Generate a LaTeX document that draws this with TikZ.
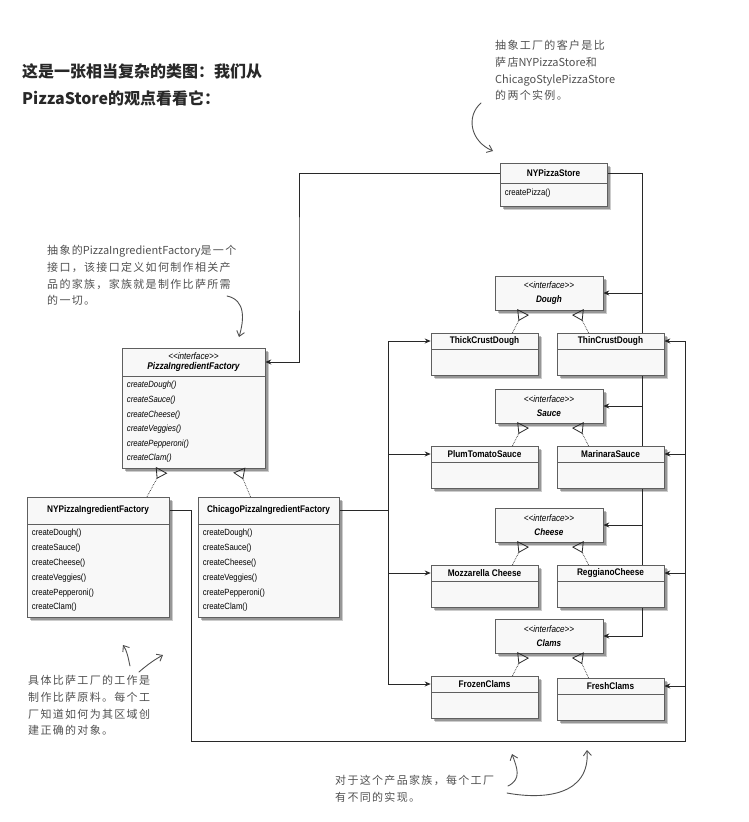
\documentclass[tikz,border=0pt]{standalone}
\usepackage{fontspec}
\setmainfont{Liberation Sans}
\newfontfamily\umlfont[FakeStretch=0.86]{Liberation Sans}
\newfontfamily\cjkfont{Noto Sans CJK SC}
\newfontfamily\handfont[LetterSpace=12]{Noto Sans CJK SC}
\newcommand{\lat}[1]{{\cjkfont #1}}
\newcommand{\stereo}{<\kern0pt<interface>\kern0pt>}
\usetikzlibrary{arrows.meta, positioning, shadows, backgrounds}
\definecolor{inkgray}{RGB}{40,40,40}
\definecolor{notegray}{RGB}{80,80,80}
\definecolor{boxfill}{RGB}{248,248,248}
\definecolor{boxline}{RGB}{95,95,95}

\begin{document}
\begin{tikzpicture}[x=1pt, y=-1pt,
  cls/.style={draw=boxline, fill=boxfill, line width=0.6pt, inner sep=0pt,
    drop shadow={shadow xshift=4pt, shadow yshift=-4pt, opacity=0.2, fill=black},
    drop shadow={shadow xshift=2.5pt, shadow yshift=-2.5pt, opacity=0.35, fill=black!80}},
  hdr/.style={draw=boxline, line width=0.6pt, inner sep=0pt, anchor=north,
    font=\umlfont\fontsize{9.6}{11}\selectfont\bfseries},
  iface/.style={cls, minimum width=108pt, minimum height=34pt, align=center,
    font=\umlfont\fontsize{9.5}{13.5}\selectfont},
  product/.style={cls, minimum width=107pt, minimum height=42pt},
  factory/.style={cls, minimum width=142pt, minimum height=120pt},
  meth/.style={inner sep=0pt, anchor=north west, align=left,
    font=\umlfont\fontsize{9}{14.8}\selectfont},
  line/.style={draw=inkgray, line width=0.8pt},
  assoc/.style={line, -{Stealth[length=6pt, width=5pt]}},
  real/.style={draw=inkgray, line width=0.7pt, densely dotted, shorten >=2pt,
    -{Triangle[open, reversed, length=10pt, width=13pt, line width=0.8pt]}},
  note/.style={inner sep=0pt, anchor=north west, align=left, text=notegray,
    font=\handfont\fontsize{11}{16.8}\selectfont},
  hand/.style={draw=notegray, line width=0.9pt, line cap=round,
    -{Straight Barb[length=5pt, width=8pt]}}
]
\useasboundingbox (0,0) rectangle (748,822);

% title
\node[anchor=north west, inner sep=0pt, align=left, text=inkgray,
  font=\cjkfont\bfseries\fontsize{16}{27}\selectfont] (title) at (22,63)
  {这是一张相当复杂的类图：我们从\\PizzaStore的观点看看它：};

% client
\node[cls, minimum width=107pt, minimum height=43pt] (store) at (553.5,184.5) {};
\node[hdr, minimum width=107pt, minimum height=20pt] (store-h) at (store.north) {NYPizzaStore};
\node[meth] at ([xshift=5pt, yshift=-26pt]store.north west) {createPizza()};

% abstract factory
\node[factory, minimum width=143pt] (pif) at (193.5,408) {};
\node[hdr, minimum width=143pt, minimum height=28pt, align=center,
  font=\umlfont\fontsize{9.5}{10.5}\selectfont\itshape] (pif-h) at (pif.north)
  {\stereo\\\textbf{\fontsize{9.8}{10.5}\selectfont PizzaIngredientFactory}};
\node[meth, font=\umlfont\fontsize{9}{14.6}\selectfont\itshape]
  at ([xshift=5pt, yshift=-33.5pt]pif.north west)
  {createDough()\\createSauce()\\createCheese()\\createVeggies()\\createPepperoni()\\createClam()};

% concrete factories
\node[factory] (nyf) at (98,557) {};
\node[hdr, minimum width=142pt, minimum height=27pt] (nyf-h) at (nyf.north) {NYPizzaIngredientFactory};
\node[meth] at ([xshift=5pt, yshift=-32.5pt]nyf.north west)
  {createDough()\\createSauce()\\createCheese()\\createVeggies()\\createPepperoni()\\createClam()};

\node[factory, minimum width=141pt] (chi) at (268.5,557) {};
\node[hdr, minimum width=141pt, minimum height=27pt] (chi-h) at (chi.north) {ChicagoPizzaIngredientFactory};
\node[meth] at ([xshift=5pt, yshift=-32.5pt]chi.north west)
  {createDough()\\createSauce()\\createCheese()\\createVeggies()\\createPepperoni()\\createClam()};

\draw[real] ([xshift=49pt]nyf.north) -- ([xshift=-31pt]pif.south);
\draw[real] ([xshift=-18pt]chi.north) -- ([xshift=45pt]pif.south);

% product interfaces
\foreach \n/\y/\lbl in {dough/293/Dough, sauce/406/Sauce, cheese/525/Cheese, clams/636/Clams}
  \node[iface] (\n) at (549,\y) {\textit{\stereo}\\\textbf{\textit{\lbl}}};

% concrete products
\foreach \n/\x/\y/\lbl in {thick/484.5/354/ThickCrustDough, thin/610.5/354/ThinCrustDough,
    plum/484.5/467/PlumTomatoSauce, mari/610.5/467/MarinaraSauce,
    mozz/484.5/586/Mozzarella Cheese, regg/610.5/586/ReggianoCheese,
    frozen/484.5/697/FrozenClams, fresh/610.5/699/FreshClams}{
  \node[product] (\n) at (\x,\y) {};
  \node[hdr, minimum width=107pt, minimum height=16pt] (\n-h) at (\n.north) {\lbl};
}

\foreach \l/\r/\i in {thick/thin/dough, plum/mari/sauce, mozz/regg/cheese, frozen/fresh/clams}{
  \draw[real] ([xshift=28pt]\l.north) -- ([xshift=-25pt]\i.south);
  \draw[real] ([xshift=-22pt]\r.north) -- ([xshift=28pt]\i.south);
}

% connectors
\begin{scope}[on background layer]
  \coordinate (sL) at (299,260);
  \coordinate (sbus) at (642,0);
  \coordinate (cbus) at (388,0);
  \coordinate (nyL) at (191,741);
  \coordinate (nyR) at (685,741);
  \draw[assoc] (store-h.west) -| (sL) |- (pif-h.east);
  \draw[assoc] (store-h.east) -| (sbus |- clams.east) -- (clams.east);
  \foreach \i in {dough,sauce,cheese}
    \draw[assoc] (sbus |- \i.east) -- (\i.east);
  \draw[line] (cbus |- thick-h.west) -- (cbus |- frozen-h.west);
  \draw[line] (chi-h.east) -- (cbus |- chi-h.east);
  \foreach \b in {thick,plum,mozz,frozen}
    \draw[assoc] (cbus |- \b-h.west) -- (\b-h.west);
  \draw[assoc] (nyf-h.east) -| (nyL) -- (nyR) |- (thin-h.east);
  \foreach \b in {mari,regg,fresh}
    \draw[assoc] (nyR |- \b-h.east) -- (\b-h.east);
\end{scope}

% notes
\node[note] (note-client) at (495,40)
  {抽象工厂的客户是比\\萨店\lat{NYPizzaStore}和\\\lat{ChicagoStylePizzaStore}\\的两个实例。};
\node[note] (note-pif) at (47,245)
  {抽象的\lat{PizzaIngredientFactory}是一个\\接口，该接口定义如何制作相关产\\品的家族，家族就是制作比萨所需\\的一切。};
\node[note] (note-conc) at (28,675)
  {具体比萨工厂的工作是\\制作比萨原料。每个工\\厂知道如何为其区域创\\建正确的对象。};
\node[note] (note-fam) at (335,775)
  {对于这个产品家族，每个工厂\\有不同的实现。};

\draw[hand] (481,103) .. controls (466,116) and (470,141) .. (493,151);
\draw[hand] (227,296) .. controls (246,300) and (244,320) .. (239,337);
\draw[hand] (130,666) .. controls (128,657) and (127,651) .. (123,645);
\draw[hand] (139,672) .. controls (147,665) and (154,660) .. (163,655);
\draw[hand] (508,786) .. controls (522,779) and (517,768) .. (512,754);
\draw[hand] (507,793) .. controls (545,800) and (590,795) .. (587,750);
\end{tikzpicture}
\end{document}
